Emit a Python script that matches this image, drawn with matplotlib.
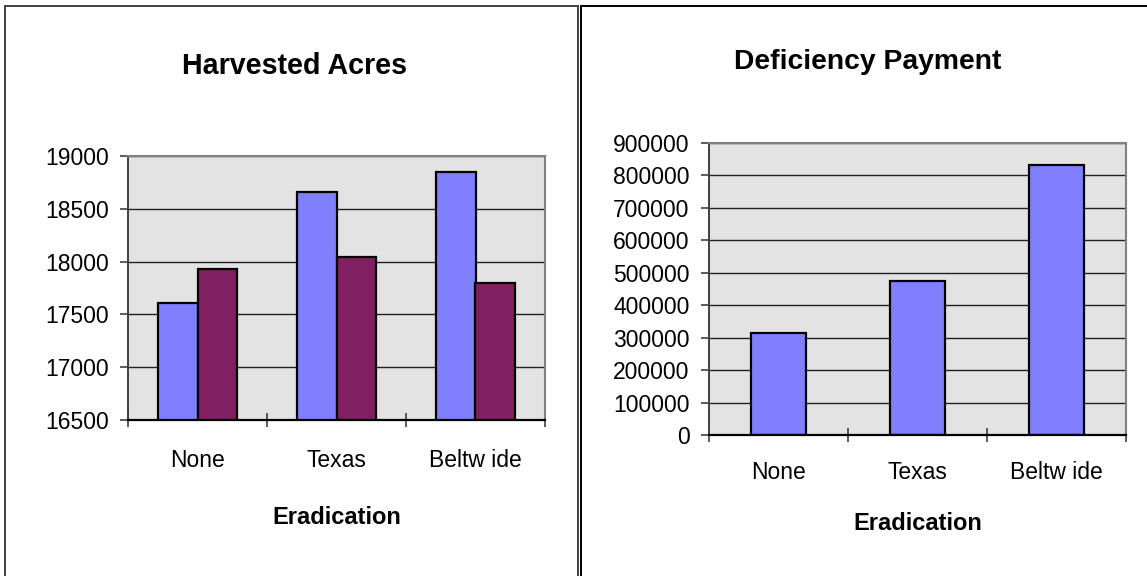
import matplotlib
matplotlib.use('Agg')
import matplotlib.pyplot as plt
import numpy as np
from matplotlib.patches import Rectangle

plt.rcParams['font.family'] = ['Liberation Sans', 'DejaVu Sans']

# chart data
categories = ['None', 'Texas', 'Beltw ide']
acres_a = [17610, 18660, 18845]
acres_b = [17930, 18045, 17795]
payment = [314000, 476000, 831000]

acres_ticks = [16500, 17000, 17500, 18000, 18500, 19000]
payment_ticks = [0, 100000, 200000, 300000, 400000, 500000, 600000, 700000, 800000, 900000]

blue = '#8080FF'
purple = '#802060'
plot_bg = '#E3E3E3'

fig = plt.figure(figsize=(11.47, 5.76), dpi=100)

# outer frames around each chart
fig.patches.append(Rectangle((5 / 1147, -0.1), 573 / 1147, 1.1 - 6 / 576,
                             transform=fig.transFigure, fill=False,
                             edgecolor='#404040', lw=1.4, clip_on=False))
fig.patches.append(Rectangle((581 / 1147, -0.1), 0.6, 1.1 - 6 / 576,
                             transform=fig.transFigure, fill=False,
                             edgecolor='black', lw=1.4, clip_on=False))


def style_axes(ax, yticks, pad_x, pad_label):
    ax.set_facecolor(plot_bg)
    ax.set_xlim(-0.5, 2.5)
    ax.set_ylim(yticks[0], yticks[-1])
    ax.set_yticks(yticks)
    ax.set_yticklabels([str(t) for t in yticks], fontsize=16.5)
    ax.yaxis.grid(True, color='#202020', lw=1.0)
    ax.set_axisbelow(True)
    # category boundaries get crossing ticks, names sit between them
    ax.set_xticks([-0.5, 0.5, 1.5, 2.5])
    ax.set_xticklabels([])
    ax.set_xticks([0, 1, 2], minor=True)
    ax.set_xticklabels(categories, minor=True, fontsize=16.5)
    ax.tick_params(axis='x', which='major', direction='inout', length=10,
                   width=1.2, color='#404040')
    ax.tick_params(axis='x', which='minor', length=0, pad=pad_x)
    ax.tick_params(axis='y', direction='out', length=6, width=1.2,
                   color='#404040', pad=8)
    for side in ['top', 'right']:
        ax.spines[side].set_color('#808080')
        ax.spines[side].set_linewidth(1.5)
    ax.spines['left'].set_color('#404040')
    ax.spines['left'].set_linewidth(1.4)
    ax.spines['bottom'].set_color('black')
    ax.spines['bottom'].set_linewidth(1.6)
    ax.set_xlabel('Eradication', fontsize=17, fontweight='bold',
                  labelpad=pad_label)


x = np.arange(len(categories))

# Harvested acres, two series side by side
ax1 = fig.add_axes([128 / 1147, 1 - 420 / 576, 417 / 1147, 264 / 576])
w = 0.286
ax1.bar(x - w / 2, acres_a, w, bottom=0, color=blue, edgecolor='black', lw=1.6)
ax1.bar(x + w / 2, acres_b, w, bottom=0, color=purple, edgecolor='black', lw=1.6)
style_axes(ax1, acres_ticks, 21, 24)
fig.text(295 / 1147, 1 - 74 / 576, 'Harvested Acres', ha='center', va='baseline',
         fontsize=20.6, fontweight='bold')

# Deficiency payment
ax2 = fig.add_axes([709 / 1147, 1 - 435 / 576, 417 / 1147, 292 / 576])
ax2.bar(x, payment, 0.4, color=blue, edgecolor='black', lw=1.6)
style_axes(ax2, payment_ticks, 19, 20)
fig.text(868 / 1147, 1 - 69 / 576, 'Deficiency Payment', ha='center', va='baseline',
         fontsize=20.3, fontweight='bold')

plt.savefig('out.png', dpi=100)
